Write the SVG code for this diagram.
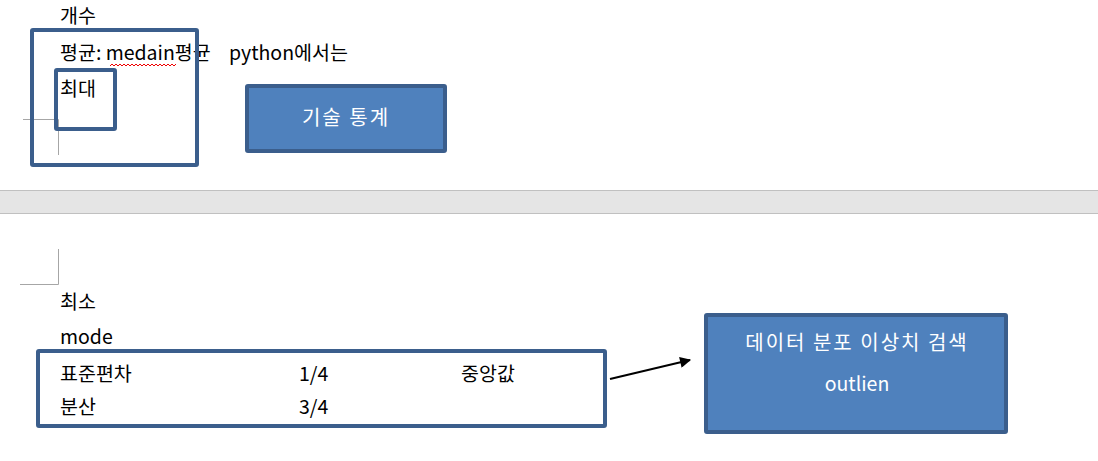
<svg xmlns="http://www.w3.org/2000/svg" width="1098" height="461" viewBox="0 0 1098 461">
<defs>
<style>
.t{font-family:"Noto Sans CJK KR","Noto Sans",sans-serif;font-size:19.5px;fill:#000}
.w{font-family:"Noto Sans CJK KR","Noto Sans",sans-serif;font-size:20px;fill:#fff;text-anchor:middle;letter-spacing:2px}
.frame{fill:none;stroke:#3b5e8c;stroke-width:4}
.blue{fill:#4f81bd;stroke:#3b5e8c;stroke-width:4}
.mark{stroke:#a6a6a6;stroke-width:1;fill:none}
</style>
<marker id="ah" viewBox="0 0 10 10" refX="9" refY="5" markerWidth="13" markerHeight="11" orient="auto" markerUnits="userSpaceOnUse"><path d="M0,0 L10,5 L0,10 z" fill="#000"/></marker>
</defs>
<rect width="1098" height="461" fill="#fff"/>
<g id="page-band">
<rect x="0" y="190" width="1098" height="23" fill="#e5e5e5"/>
<line x1="0" y1="190.5" x2="1098" y2="190.5" stroke="#c0c0c0"/>
<line x1="0" y1="213.5" x2="1098" y2="213.5" stroke="#c0c0c0"/>
</g>
<g id="marks">
<path class="mark" d="M23,119.5 H58.5 V155"/>
<path class="mark" d="M58.5,249 V284.5 H20"/>
</g>
<g id="texts-top">
<text class="t" x="60" y="23">개수</text>
<text class="t" x="60" y="60">평균: medain평균</text>
<text class="t" x="229" y="60">python에서는</text>
<path d="M110,66 l2,-2 l2,2 l2,-2 l2,2 l2,-2 l2,2 l2,-2 l2,2 l2,-2 l2,2 l2,-2 l2,2 l2,-2 l2,2 l2,-2 l2,2 l2,-2 l2,2 l2,-2 l2,2 l2,-2 l2,2 l2,-2 l2,2 l2,-2 l2,2 l2,-2 l2,2 l2,-2 l2,2 l2,-2 l2,2 l2,-2" fill="none" stroke="#e00" stroke-width="1"/>
<text class="t" x="60" y="96">최대</text>
</g>
<g id="outer-box"><rect class="frame" x="32" y="30" width="165" height="135" rx="1"/></g>
<g id="inner-box"><rect class="frame" x="56" y="70" width="59" height="59" rx="1"/></g>
<g id="node-stats">
<rect class="blue" x="247" y="86" width="198" height="65" rx="1"/>
<text class="w" x="346" y="125">기술 통계</text>
</g>
<g id="texts-bottom">
<text class="t" x="60" y="309">최소</text>
<text class="t" x="60" y="344">mode</text>
</g>
<g id="node-table">
<rect class="frame" x="38" y="351" width="567" height="75" rx="1"/>
<text class="t" x="60" y="381">표준편차</text>
<text class="t" x="299" y="381">1/4</text>
<text class="t" x="461" y="381">중앙값</text>
<text class="t" x="60" y="414">분산</text>
<text class="t" x="299" y="414">3/4</text>
</g>
<g id="connectors">
<line x1="610" y1="379" x2="690" y2="360" stroke="#000" stroke-width="2" marker-end="url(#ah)"/>
</g>
<g id="node-outlier">
<rect class="blue" x="706" y="315" width="300" height="117" rx="1"/>
<text class="w" x="857" y="350">데이터 분포 이상치 검색</text>
<text class="w" x="857" y="391" style="letter-spacing:0;font-size:19.5px">outlien</text>
</g>
</svg>
